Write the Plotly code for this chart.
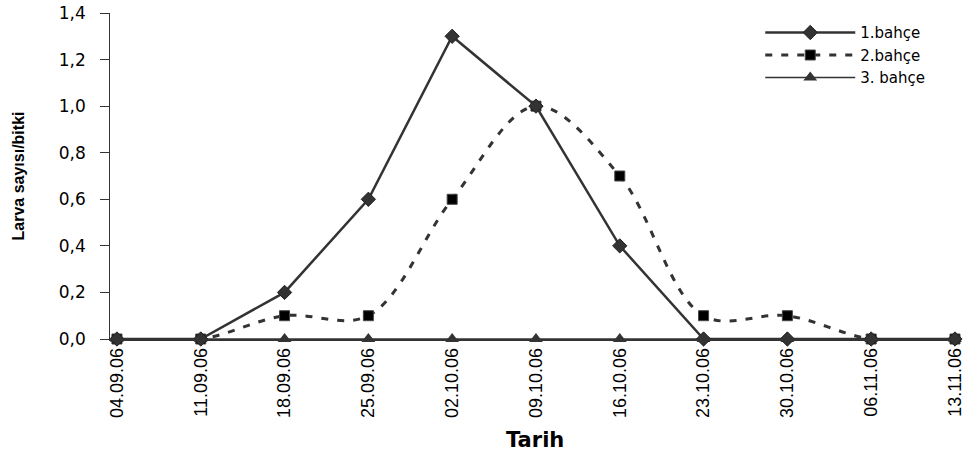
import plotly.graph_objects as go

dates = ["04.09.06", "11.09.06", "18.09.06", "25.09.06", "02.10.06", "09.10.06",
         "16.10.06", "23.10.06", "30.10.06", "06.11.06", "13.11.06"]
bahce1 = [0, 0, 0.2, 0.6, 1.3, 1.0, 0.4, 0, 0, 0, 0]
bahce2 = [0, 0, 0.1, 0.1, 0.6, 1.0, 0.7, 0.1, 0.1, 0, 0]
bahce3 = [0, 0, 0, 0, 0, 0, 0, 0, 0, 0, 0]
yticks = [0, 0.2, 0.4, 0.6, 0.8, 1.0, 1.2, 1.4]
ytick_labels = ["0,0", "0,2", "0,4", "0,6", "0,8", "1,0", "1,2", "1,4"]

xi = list(range(len(dates)))
fig = go.Figure()
fig.add_trace(go.Scatter(x=xi, y=bahce3, name="3. bahçe", mode="lines+markers",
                         line=dict(color="#333333", width=1.3),
                         marker=dict(symbol="triangle-up", size=12, color="#333333"),
                         cliponaxis=False))
fig.add_trace(go.Scatter(x=xi, y=bahce2, name="2.bahçe", mode="lines+markers",
                         line=dict(color="#333333", width=3, dash="7px,9px", shape="spline", smoothing=1),
                         marker=dict(symbol="square", size=10, color="black",
                                     line=dict(color="#444444", width=1)),
                         cliponaxis=False))
fig.add_trace(go.Scatter(x=xi, y=bahce1, name="1.bahçe", mode="lines+markers",
                         line=dict(color="#333333", width=2.5),
                         marker=dict(symbol="diamond", size=11, color="#333333",
                                     line=dict(color="#222222", width=1)),
                         cliponaxis=False))

pad = "\u00a0\u00a0"
fig.update_layout(
    width=964, height=452,
    margin=dict(l=110, r=4, t=13, b=113),
    plot_bgcolor="white", paper_bgcolor="white",
    font=dict(family="Liberation Sans, Arial", color="black"),
    showlegend=True,
    legend=dict(x=0.765, y=0.99, xanchor="left", yanchor="top", traceorder="reversed",
                font=dict(size=15, family="DejaVu Sans"), itemwidth=90, tracegroupgap=0,
                bgcolor="rgba(0,0,0,0)"),
    xaxis=dict(range=[-0.083, 10.06], tickvals=xi, ticktext=dates, tickangle=-90,
               showline=True, linecolor="#333333", linewidth=1.5, ticks="",
               showgrid=False, zeroline=False, tickfont=dict(size=18), automargin=False,
               ticklabeloverflow="allow"),
    yaxis=dict(range=[0, 1.4], tickvals=yticks, ticktext=[t + pad for t in ytick_labels],
               showline=True, linecolor="#333333", linewidth=1.2, ticks="outside",
               ticklen=9, tickcolor="#333333", showgrid=False, zeroline=False,
               tickfont=dict(size=17, family="DejaVu Sans"), automargin=False,
               ticklabeloverflow="allow",
               title=dict(text="<b>Larva sayısı/bitki</b>", font=dict(size=16), standoff=30)),
    annotations=[dict(text="<b>Tarih</b>", x=0.5, y=-0.31, xref="paper", yref="paper",
                      showarrow=False, font=dict(size=21, family="DejaVu Sans"),
                      xanchor="center", yanchor="middle")],
)
# remove the page's default 8px body margin so the 964x452 figure fills the window
fig.write_html("out.html", config={"displayModeBar": False},
               post_script="document.body.style.margin='0';")
